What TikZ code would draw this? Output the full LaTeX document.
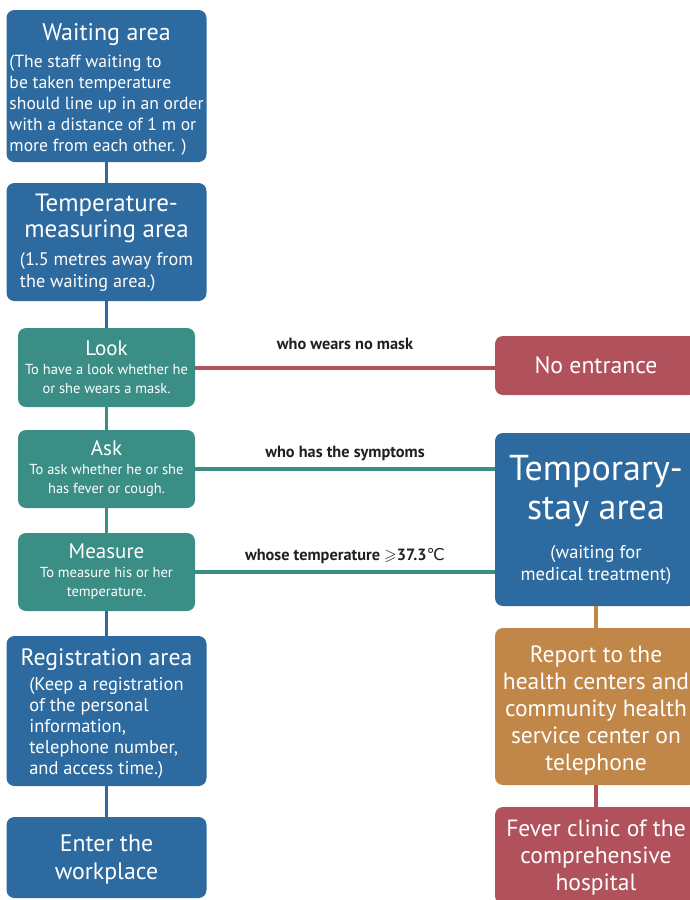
\documentclass[tikz,border=0pt]{standalone}
\usepackage{fontspec}
\usepackage{amssymb}
\setmainfont{PT Sans}
\newfontfamily\symbolfont{DejaVu Sans}
\usetikzlibrary{calc,positioning}
\definecolor{color_area_blue}{HTML}{2D6A9F}
\definecolor{color_check_teal}{HTML}{3B8E86}
\definecolor{color_stop_red}{HTML}{B0515B}
\definecolor{color_report_ochre}{HTML}{C08749}
\definecolor{color_label_text}{HTML}{231F20}

\newcommand{\fsize}[2]{\fontsize{#1}{#2}\selectfont}
\newcommand{\boxtext}[2]{\parbox{#1}{\centering #2\par}}

\begin{document}
\begin{tikzpicture}[x=1pt,y=-1pt,
		box/.style={rounded corners=8pt,text=white,inner sep=0pt,minimum width=#1},
		areabox/.style={box=200pt,fill=color_area_blue},
		checkbox/.style={box=177pt,fill=color_check_teal},
		stopbox/.style={box=202pt,fill=color_stop_red},
		reportbox/.style={box=202pt,fill=color_report_ochre},
		spine/.style={line width=3.5pt},
		branch/.style={line width=4pt},
		cond/.style={text=color_label_text,font=\bfseries\fsize{16.3}{19}}
	]
	\useasboundingbox (0, 0) rectangle (690, 900);

	% Left column
	\node[areabox,minimum height=152pt] (waiting) at (106.5, 86)
		{\boxtext{198pt}{\vspace*{10pt}\fsize{24}{28}Waiting area\par\vspace{6pt}
		\fsize{17.6}{21}\begin{tabular}{@{}l@{}}
			(The staff waiting to\\
			be taken temperature\\
			should line up in an order\\
			with a distance of 1 m or\\
			more from each other. )
		\end{tabular}}};
	\node[areabox,minimum height=118pt] (measuring) at (106.5, 242)
		{\boxtext{198pt}{\vspace*{4pt}\fsize{25}{26}Temperature-\\measuring area\par\vspace{7pt}
		\fsize{18.2}{22}\begin{tabular}{@{}l@{}}
			(1.5 metres away from\\
			the waiting area.)
		\end{tabular}}};
	\node[checkbox,minimum height=79pt] (look) at (106.5, 367.5)
		{\boxtext{175pt}{\fsize{21}{22}Look\par
		\fsize{14.5}{19}To have a look whether he\\or she wears a mask.}};
	\node[checkbox,minimum height=78pt] (ask) at (106.5, 469)
		{\boxtext{175pt}{\fsize{21}{22}Ask\par
		\fsize{14.5}{19}To ask whether he or she\\has fever or cough.}};
	\node[checkbox,minimum height=78pt] (measure) at (106.5, 572)
		{\boxtext{175pt}{\fsize{21}{22}Measure\par
		\fsize{14.5}{19}To measure his or her\\temperature.}};
	\node[areabox,minimum height=150pt] (registration) at (106.5, 711)
		{\boxtext{198pt}{\vspace*{8pt}\fsize{23.7}{26}Registration area\par\vspace{4pt}
		\fsize{18.5}{21}\begin{tabular}{@{}l@{}}
			(Keep a registration\\
			of the personal\\
			information,\\
			telephone number,\\
			and access time.)
		\end{tabular}}};
	\node[areabox,minimum height=81pt] (enter) at (106.5, 857.5)
		{\boxtext{198pt}{\vspace*{4pt}\fsize{23.8}{28}Enter the\\workplace}};

	% Right column
	\node[stopbox,minimum height=59pt] (noentry) at (596, 365.5)
		{\boxtext{200pt}{\fsize{23.7}{26}No entrance}};
	\node[areabox,minimum width=202pt,minimum height=173pt] (temporary) at (596, 519.5)
		{\boxtext{200pt}{\fsize{36}{39}Temporary-\\stay area\par\vspace{17pt}
		\fsize{18.5}{22}(waiting for\\medical treatment)}};
	\node[reportbox,minimum height=157pt] (report) at (596, 706.5)
		{\boxtext{200pt}{\vspace*{9pt}\fsize{23.5}{27}Report to the\\health centers and\\community health\\service center on\\telephone}};
	\node[stopbox,minimum height=97pt] (fever) at (596, 855.5)
		{\boxtext{200pt}{\vspace*{5pt}\fsize{23.5}{27}Fever clinic of the\\comprehensive\\hospital}};

	% Spine
	\draw[spine,color_area_blue]
		(waiting.south) -- (measuring.north)
		(measuring.south) -- (look.north)
		(measure.south) -- (registration.north)
		(registration.south) -- (enter.north)
		;
	\draw[spine,color_check_teal]
		(look.south) -- (ask.north)
		(ask.south) -- (measure.north)
		;
	\draw[spine,color_report_ochre] (temporary.south) -- (report.north);
	\draw[spine,color_stop_red] (report.south) -- (fever.north);

	% Branches
	\draw[branch,color_stop_red] (look.east) -- (look.east -| noentry.west)
		node[cond,midway,above=12pt] (nomask) {who wears no mask};
	\draw[branch,color_check_teal] (ask.east) -- (ask.east -| temporary.west)
		node[cond,midway,above=3pt] (symptoms) {who has the symptoms};
	\draw[branch,color_check_teal] (measure.east) -- (measure.east -| temporary.west)
		node[cond,midway,above=3pt] (fevertemp) {whose temperature $\geqslant$37.3{\symbolfont\mdseries ℃}};
\end{tikzpicture}
\end{document}
